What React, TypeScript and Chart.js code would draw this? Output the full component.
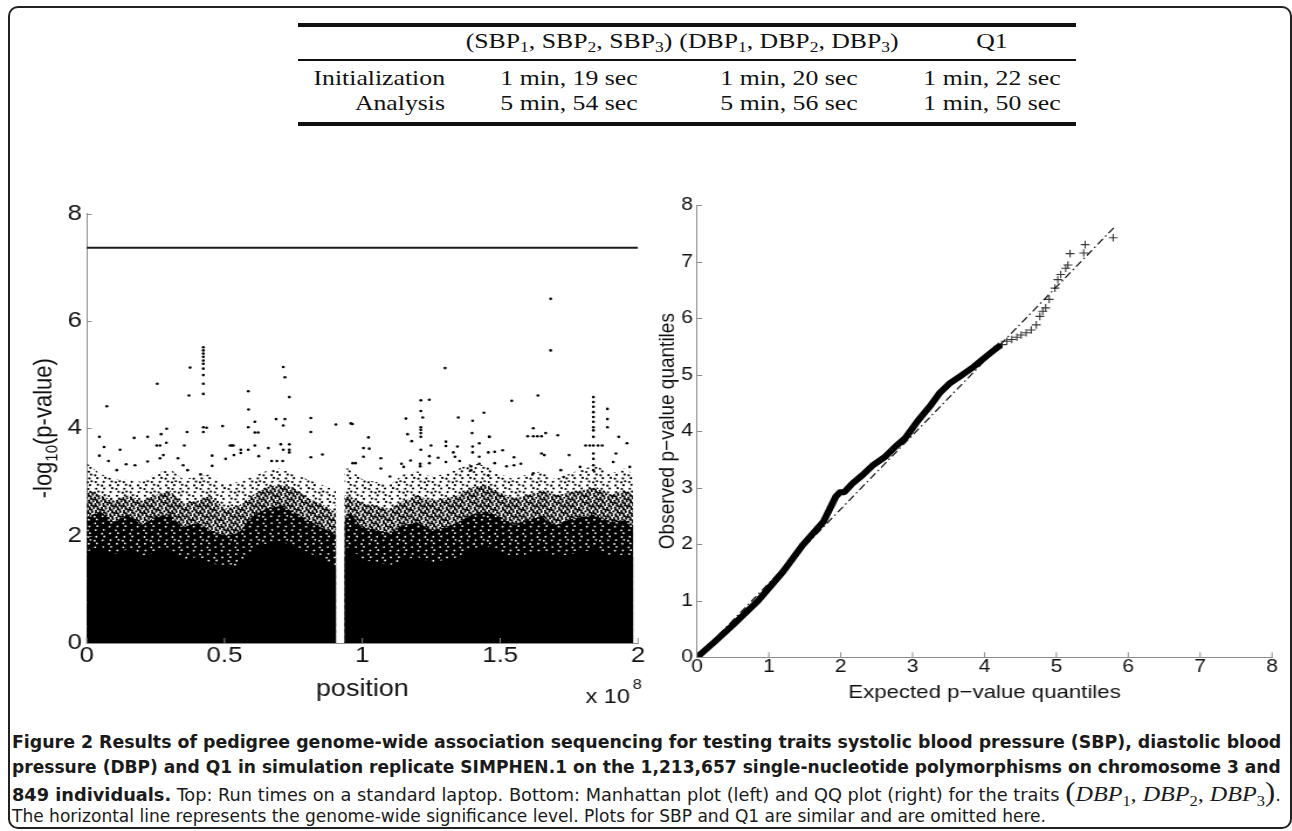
import React, { useEffect, useLayoutEffect, useRef } from "react";
import { Chart, registerables } from "chart.js";

Chart.register(...registerables);

// ---------------- fonts / layout helpers ----------------
const STRETCH = 1.17; // the reference figure is stretched horizontally
const SANS = "'Liberation Sans', Arial, Helvetica, sans-serif";
const SERIF = "'Liberation Serif', 'Times New Roman', serif";
const NARROW = "'Liberation Sans Narrow', 'DejaVu Sans Condensed', 'Liberation Sans', sans-serif";

// ---------------- table data ----------------
const tableTraitGroups = [["SBP", "SBP", "SBP"], ["DBP", "DBP", "DBP"], ["Q1"]];
const tableRowLabels = ["Initialization", "Analysis"];
const tableInitialization = ["1 min, 19 sec", "1 min, 20 sec", "1 min, 22 sec"];
const tableAnalysis = ["5 min, 54 sec", "5 min, 56 sec", "1 min, 50 sec"];

// ---------------- Manhattan plot data (position in units of 1e8) ----------------
const manhattanXTicks = [0, 0.5, 1, 1.5, 2];
const manhattanXTickLabels = ["0", "0.5", "1", "1.5", "2"];
const manhattanYTicks = [0, 2, 4, 6, 8];
const significanceLevel = 7.36;

// envelopes of the dense cloud of SNPs, from solid black to sparse dots (null = gap without SNPs)
const bandPos = [0, 0.05, 0.1, 0.15, 0.2, 0.25, 0.3, 0.35, 0.4, 0.45, 0.5, 0.55, 0.6, 0.65, 0.7, 0.75, 0.8, 0.85, 0.9, 0.905, 0.92, 0.935, 0.95, 1.0, 1.05, 1.1, 1.15, 1.2, 1.25, 1.3, 1.35, 1.4, 1.45, 1.5, 1.55, 1.6, 1.65, 1.7, 1.75, 1.8, 1.85, 1.9, 1.95, 1.983];
const solidTop = [1.7, 1.8, 1.65, 1.75, 1.6, 1.7, 1.75, 1.55, 1.6, 1.5, 1.4, 1.45, 1.7, 1.85, 1.9, 1.8, 1.7, 1.55, 1.45, 1.4, null, 1.6, 1.8, 1.55, 1.5, 1.45, 1.55, 1.6, 1.5, 1.55, 1.6, 1.75, 1.8, 1.7, 1.6, 1.65, 1.7, 1.6, 1.65, 1.7, 1.75, 1.6, 1.65, 1.6];
const denseTop = [2.35, 2.45, 2.25, 2.4, 2.2, 2.35, 2.4, 2.15, 2.25, 2.1, 2.0, 2.05, 2.35, 2.5, 2.55, 2.45, 2.3, 2.15, 2.05, 2.0, null, 2.25, 2.45, 2.15, 2.1, 2.05, 2.2, 2.25, 2.1, 2.15, 2.25, 2.4, 2.45, 2.35, 2.2, 2.3, 2.35, 2.2, 2.3, 2.35, 2.4, 2.25, 2.3, 2.2];
const mediumTop = [2.85, 2.75, 2.65, 2.75, 2.65, 2.75, 2.85, 2.6, 2.65, 2.75, 2.5, 2.55, 2.75, 2.9, 2.95, 2.9, 2.7, 2.6, 2.45, 2.45, null, 2.75, 2.75, 2.6, 2.55, 2.5, 2.65, 2.75, 2.65, 2.7, 2.75, 2.9, 2.95, 2.8, 2.7, 2.75, 2.85, 2.75, 2.8, 2.85, 2.9, 2.75, 2.85, 2.75];
const sparseTop = [3.35, 3.15, 3.05, 3.05, 3.0, 3.15, 3.25, 3.05, 3.1, 3.15, 2.95, 3.0, 3.1, 3.2, 3.25, 3.15, 3.05, 2.95, 2.85, 2.85, null, 3.25, 3.25, 3.05, 3.0, 2.95, 3.15, 3.2, 3.1, 3.15, 3.25, 3.35, 3.3, 3.15, 3.05, 3.15, 3.2, 3.05, 3.15, 3.25, 3.3, 3.15, 3.25, 3.15];

// individual SNPs standing out above the cloud
const peakPos = [
  0.423, 0.423, 0.423, 0.423, 0.423, 0.423, 0.423, 0.423, 0.423, 0.423, 0.423, 0.423, 0.435, 0.375, 0.371, 0.256, 0.073, 0.290, 0.270, 0.364,
  0.046, 0.172, 0.221, 0.063, 0.121, 0.254, 0.266, 0.289, 0.354, 0.455, 0.046, 0.079, 0.221, 0.266, 0.278, 0.331, 0.350, 0.366, 0.175, 0.143,
  0.109, 0.455, 0.413,
  0.713, 0.719, 0.735, 0.586, 0.587, 0.610, 0.687, 0.719, 0.713, 0.813, 0.813, 0.904, 0.958, 0.964, 0.493, 0.586, 0.610, 0.622, 1.022, 0.520,
  0.526, 0.532, 0.559, 0.559, 0.586, 0.610, 0.659, 0.704, 0.713, 0.735, 0.735, 0.735, 0.504, 0.534, 0.624, 0.813, 0.855, 1.004, 1.004, 0.965,
  0.975, 0.671, 0.690, 0.711,
  1.300, 1.212, 1.243, 1.212, 1.219, 1.158, 1.348, 1.400, 1.441, 1.212, 1.212, 1.212, 1.212, 1.164, 1.179, 1.025, 1.398, 1.461, 1.424, 1.509,
  1.249, 1.303, 1.303, 1.345, 1.400, 1.400, 1.457, 1.212, 1.067, 1.142, 1.150, 1.175, 1.210, 1.210, 1.243, 1.243, 1.275, 1.303, 1.330, 1.336,
  1.353, 1.394, 1.394, 1.424, 1.424, 1.480, 1.523, 1.457, 1.067, 1.100,
  1.683, 1.683, 1.637, 1.542, 1.838, 1.838, 1.838, 1.838, 1.838, 1.838, 1.838, 1.838, 1.838, 1.838, 1.838, 1.838, 1.838, 1.838, 1.889, 1.889,
  1.889, 1.930, 1.600, 1.620, 1.635, 1.650, 1.620, 1.665, 1.460, 1.810, 1.825, 1.855, 1.870, 1.709, 1.960, 1.920, 1.750, 1.650, 1.660, 1.550,
  1.550, 1.575, 1.480, 1.790, 1.910, 1.970, 1.720, 1.730, 1.620,
];
const peakVal = [
  5.51, 5.45, 5.39, 5.33, 5.26, 5.20, 5.11, 4.99, 4.83, 4.64, 4.02, 3.93, 4.01, 5.13, 4.61, 4.83, 4.41, 3.99, 3.89, 3.93,
  3.84, 3.82, 3.84, 3.65, 3.60, 3.68, 3.68, 3.73, 3.68, 3.49, 3.49, 3.39, 3.38, 3.44, 3.50, 3.44, 3.31, 3.22, 3.31, 3.33,
  3.22, 3.30, 3.14,
  5.14, 4.95, 4.58, 4.69, 4.35, 4.12, 4.17, 4.17, 4.05, 4.19, 3.93, 4.07, 4.09, 4.08, 4.04, 4.02, 3.92, 3.92, 3.83, 3.68,
  3.68, 3.68, 3.60, 3.54, 3.60, 3.68, 3.63, 3.70, 3.60, 3.70, 3.60, 3.55, 3.43, 3.50, 3.48, 3.46, 3.51, 3.63, 3.47, 3.35,
  3.35, 3.39, 3.39, 3.39,
  5.12, 4.52, 4.53, 4.32, 4.20, 4.18, 4.20, 4.14, 4.29, 4.02, 3.97, 3.91, 3.84, 3.89, 3.76, 3.62, 3.91, 3.84, 3.72, 3.59,
  3.68, 3.75, 3.67, 3.66, 3.66, 3.55, 3.55, 3.60, 3.44, 3.34, 3.28, 3.40, 3.34, 3.29, 3.48, 3.35, 3.45, 3.37, 3.55, 3.47,
  3.39, 3.29, 3.22, 3.47, 3.34, 3.35, 3.29, 3.12, 3.25, 3.10,
  6.41, 5.45, 4.61, 4.51, 4.58, 4.49, 4.40, 4.30, 4.21, 4.12, 4.02, 3.96, 3.84, 3.68, 3.53, 3.43, 3.31, 3.22, 4.36, 4.17,
  4.02, 3.84, 3.85, 3.85, 3.85, 3.85, 4.00, 3.91, 3.84, 3.68, 3.68, 3.68, 3.68, 3.87, 3.72, 3.53, 3.50, 3.53, 3.50, 3.46,
  3.31, 3.34, 3.56, 3.28, 3.37, 3.28, 3.22, 3.09, 3.16,
];

// ---------------- QQ plot data ----------------
const qqTicks = [0, 1, 2, 3, 4, 5, 6, 7, 8];
const qqExpected = [0, 0.25, 0.5, 0.85, 1.2, 1.48, 1.76, 1.93, 1.99, 2.05, 2.16, 2.3, 2.44, 2.61, 2.78, 2.9, 3.07, 3.24, 3.38, 3.52, 3.66, 3.85, 4.08, 4.2];
const qqObserved = [0, 0.28, 0.57, 1.0, 1.52, 2.0, 2.4, 2.84, 2.92, 2.92, 3.07, 3.22, 3.39, 3.54, 3.75, 3.88, 4.18, 4.44, 4.68, 4.85, 4.97, 5.14, 5.38, 5.5];
const qqTailExpected = [4.19, 4.24, 4.31, 4.38, 4.45, 4.51, 4.58, 4.65, 4.72, 4.77, 4.81, 4.85, 4.90, 4.98, 5.02, 5.06, 5.13, 5.16, 5.19, 5.38, 5.40, 5.79];
const qqTailObserved = [5.50, 5.53, 5.59, 5.62, 5.66, 5.70, 5.74, 5.79, 5.88, 6.03, 6.12, 6.18, 6.33, 6.53, 6.68, 6.77, 6.88, 6.94, 7.14, 7.15, 7.30, 7.42];
const refLineExpected = [0, 5.8];
const refLineObserved = [0, 7.6];

// ---------------- helpers ----------------
function splitSegments(pos: number[], vals: (number | null)[]) {
  const segs: { x: number; y: number }[][] = [];
  let cur: { x: number; y: number }[] = [];
  pos.forEach((p, i) => {
    const v = vals[i];
    if (v == null) {
      if (cur.length) segs.push(cur);
      cur = [];
    } else cur.push({ x: p, y: v });
  });
  if (cur.length) segs.push(cur);
  return segs;
}

// speckle texture (quasi-random, deterministic) used to shade the point cloud
function speckle(tile: number, count: number, r: number, base: string | null, dotColor: string) {
  const c = document.createElement("canvas");
  c.width = tile;
  c.height = tile;
  const g = c.getContext("2d")!;
  if (base) {
    g.fillStyle = base;
    g.fillRect(0, 0, tile, tile);
  }
  g.fillStyle = dotColor;
  for (let i = 0; i < count; i++) {
    const x = ((0.37 + i * 0.7548776662) % 1) * tile;
    const y = ((0.61 + i * 0.569840291) % 1) * tile;
    for (const dx of [-tile, 0, tile])
      for (const dy of [-tile, 0, tile]) {
        g.beginPath();
        g.arc(x + dx, y + dy, r, 0, Math.PI * 2);
        g.fill();
      }
  }
  return g.createPattern(c, "repeat")!;
}

const inwardTicks = {
  id: "inwardTicks",
  afterDraw(chart: any, _a: any, opts: any) {
    const { ctx, chartArea } = chart;
    const xs = chart.scales.x;
    const ys = chart.scales.y;
    ctx.save();
    ctx.strokeStyle = opts.color;
    ctx.lineWidth = 1;
    ctx.beginPath();
    for (const v of opts.xTicks) {
      const px = xs.getPixelForValue(v);
      ctx.moveTo(px, chartArea.bottom);
      ctx.lineTo(px, chartArea.bottom - opts.lenY);
    }
    for (const v of opts.yTicks) {
      const py = Math.round(ys.getPixelForValue(v)) + 0.5;
      ctx.moveTo(chartArea.left, py);
      ctx.lineTo(chartArea.left + opts.lenX, py);
    }
    ctx.stroke();
    ctx.restore();
  },
};

const manhattanText = {
  id: "manhattanText",
  afterDraw(chart: any) {
    const { ctx, chartArea } = chart;
    ctx.save();
    ctx.fillStyle = "#111";
    const cy = (chartArea.top + chartArea.bottom) / 2;
    ctx.translate(36, cy);
    ctx.rotate(-Math.PI / 2);
    const big = `22px ${SANS}`;
    const small = `15px ${SANS}`;
    ctx.font = big;
    const w1 = ctx.measureText("-log").width;
    const w3 = ctx.measureText("(p-value)").width;
    ctx.font = small;
    const w2 = ctx.measureText("10").width;
    let x = -(w1 + w2 + w3) / 2;
    ctx.textBaseline = "alphabetic";
    ctx.font = big;
    ctx.fillText("-log", x, 8);
    x += w1;
    ctx.font = small;
    ctx.fillText("10", x, 13);
    x += w2;
    ctx.font = big;
    ctx.fillText("(p-value)", x, 8);
    ctx.restore();

    ctx.save();
    ctx.fillStyle = "#111";
    ctx.textBaseline = "alphabetic";
    ctx.font = `20px ${SANS}`;
    ctx.textAlign = "right";
    ctx.fillText("x 10", chartArea.right - 7, 513);
    ctx.font = `14px ${SANS}`;
    ctx.textAlign = "left";
    ctx.fillText("8", chartArea.right - 4.5, 499);
    ctx.restore();
  },
};

// ---------------- Manhattan plot ----------------
const M_W = 564;
const M_H = 530;

function ManhattanPlot() {
  const ref = useRef<HTMLCanvasElement | null>(null);
  useEffect(() => {
    if (!ref.current) return;
    const densePattern = speckle(24, 22, 0.9, "#000", "#fff");
    const mediumPattern = speckle(24, 95, 1.1, null, "#000");
    const sparsePattern = speckle(24, 30, 1.1, null, "#000");

    const solidSegs = splitSegments(bandPos, solidTop);
    const denseSegs = splitSegments(bandPos, denseTop);
    const mediumSegs = splitSegments(bandPos, mediumTop);
    const sparseSegs = splitSegments(bandPos, sparseTop);

    // every layer is filled down to the axis; the denser layers are drawn over the lighter ones
    const band = (data: any, bg: any, order: number) => ({
      data,
      borderColor: "rgba(0,0,0,0)",
      borderWidth: 0,
      pointRadius: 0,
      pointHoverRadius: 0,
      tension: 0,
      fill: "origin",
      backgroundColor: bg,
      order,
    });

    const datasets: any[] = [];
    datasets.push({
      data: [{ x: 0, y: significanceLevel }, { x: 2, y: significanceLevel }],
      borderColor: "#1a1a1a",
      borderWidth: 2,
      pointRadius: 0,
      fill: false,
      order: 0,
    });
    datasets.push({
      data: peakPos.map((p, i) => ({ x: p, y: peakVal[i] })),
      showLine: false,
      pointRadius: 1.3,
      pointBackgroundColor: "#000",
      pointBorderWidth: 0,
      pointHoverRadius: 0,
      order: 1,
    });
    solidSegs.forEach((seg, k) => {
      datasets.push(band(sparseSegs[k], sparsePattern, 5));
      datasets.push(band(mediumSegs[k], mediumPattern, 4));
      datasets.push(band(denseSegs[k], densePattern, 3));
      datasets.push(band(seg, "#000", 2));
    });

    const chart = new Chart(ref.current, {
      type: "line",
      data: { datasets },
      options: {
        responsive: false,
        animation: false,
        events: [],
        layout: { padding: { top: 23.5, right: 18.7, bottom: 0, left: 0 } },
        plugins: {
          legend: { display: false },
          tooltip: { enabled: false },
          inwardTicks: { xTicks: manhattanXTicks, yTicks: manhattanYTicks, lenX: 4.3, lenY: 5, color: "#8c8c8c" },
        } as any,
        scales: {
          x: {
            type: "linear",
            min: 0,
            max: 2,
            afterBuildTicks: (s: any) => {
              s.ticks = manhattanXTicks.map((v) => ({ value: v }));
            },
            afterFit: (s: any) => {
              s.height = M_H - 453;
            },
            grid: { display: false, drawTicks: false },
            border: { display: true, color: "#8c8c8c", width: 1 },
            ticks: {
              padding: 0,
              color: "#111",
              font: { family: SANS, size: 22 },
              maxRotation: 0,
              callback: (v: any) => manhattanXTickLabels[manhattanXTicks.indexOf(Number(v))] ?? "",
            },
            title: { display: true, text: "position", color: "#111", font: { family: SANS, size: 23 }, padding: { top: 0, bottom: 16.2 } },
          },
          y: {
            type: "linear",
            min: 0,
            max: 8,
            afterBuildTicks: (s: any) => {
              s.ticks = manhattanYTicks.map((v) => ({ value: v }));
            },
            afterFit: (s: any) => {
              s.width = 74.1;
            },
            grid: { display: false, drawTicks: false },
            border: { display: true, color: "#8c8c8c", width: 1 },
            ticks: { padding: 4, color: "#111", font: { family: SANS, size: 22 } },
          },
        },
      } as any,
      plugins: [inwardTicks, manhattanText] as any,
    });
    return () => chart.destroy();
  }, []);
  return (
    <div style={{ position: "absolute", left: 0, top: 190, width: M_W, height: M_H, transform: `scaleX(${STRETCH})`, transformOrigin: "0 0" }}>
      <canvas ref={ref} width={M_W} height={M_H} />
    </div>
  );
}

// ---------------- QQ plot ----------------
const Q_W = 557;
const Q_H = 530;

function QQPlot() {
  const ref = useRef<HTMLCanvasElement | null>(null);
  useEffect(() => {
    if (!ref.current) return;
    const chart = new Chart(ref.current, {
      type: "line",
      data: {
        datasets: [
          {
            data: qqExpected.map((x, i) => ({ x, y: qqObserved[i] })),
            borderColor: "#000",
            borderWidth: 6,
            borderJoinStyle: "round",
            borderCapStyle: "round",
            pointRadius: 0,
            tension: 0,
            fill: false,
            order: 0,
          },
          {
            data: refLineExpected.map((x, i) => ({ x, y: refLineObserved[i] })),
            borderColor: "#111",
            borderWidth: 1.2,
            borderDash: [7, 3, 1.5, 3],
            pointRadius: 0,
            fill: false,
            order: 1,
          },
          {
            data: qqTailExpected.map((x, i) => ({ x, y: qqTailObserved[i] })),
            showLine: false,
            pointStyle: "cross",
            pointRadius: 3.8,
            pointBorderWidth: 1.1,
            pointBorderColor: "#3a3a3a",
            pointBackgroundColor: "#3a3a3a",
            pointHoverRadius: 0,
            order: 2,
          },
        ] as any,
      },
      options: {
        responsive: false,
        animation: false,
        events: [],
        layout: { padding: { top: 15, right: 16.8, bottom: 0, left: 0 } },
        plugins: {
          legend: { display: false },
          tooltip: { enabled: false },
          inwardTicks: { xTicks: qqTicks, yTicks: qqTicks, lenX: 4.3, lenY: 5, color: "#8c8c8c" },
        } as any,
        scales: {
          x: {
            type: "linear",
            min: 0,
            max: 8,
            afterBuildTicks: (s: any) => {
              s.ticks = qqTicks.map((v) => ({ value: v }));
            },
            afterFit: (s: any) => {
              s.height = Q_H - 467.3;
            },
            grid: { display: false, drawTicks: false },
            border: { display: true, color: "#8c8c8c", width: 1 },
            ticks: { padding: -1, color: "#111", font: { family: SANS, size: 18 }, maxRotation: 0 },
            title: { display: true, text: "Expected p\u2212value quantiles", color: "#111", font: { family: SANS, size: 19 }, padding: { top: 0, bottom: 15.6 } },
          },
          y: {
            type: "linear",
            min: 0,
            max: 8,
            afterBuildTicks: (s: any) => {
              s.ticks = qqTicks.map((v) => ({ value: v }));
            },
            afterFit: (s: any) => {
              s.width = 48.7;
            },
            grid: { display: false, drawTicks: false },
            border: { display: true, color: "#8c8c8c", width: 1 },
            ticks: { padding: 3.4, color: "#111", font: { family: SANS, size: 18 } },
            title: { display: true, text: "Observed p\u2212value quantiles", color: "#111", font: { family: SANS, size: 19 }, padding: { top: 12.5, bottom: 0 } },
          },
        },
      } as any,
      plugins: [inwardTicks] as any,
    });
    return () => chart.destroy();
  }, []);
  return (
    <div style={{ position: "absolute", left: 640, top: 190, width: Q_W, height: Q_H, transform: `scaleX(${STRETCH})`, transformOrigin: "0 0" }}>
      <canvas ref={ref} width={Q_W} height={Q_H} />
    </div>
  );
}

// ---------------- table ----------------
const subStyle: React.CSSProperties = { fontSize: "0.68em", verticalAlign: "-0.3em", lineHeight: 0 };

function cell(x: number, y: number, align: "center" | "right"): React.CSSProperties {
  return {
    position: "absolute",
    left: x,
    top: y,
    whiteSpace: "nowrap",
    fontFamily: SERIF,
    fontSize: 22,
    lineHeight: "24px",
    color: "#111",
    transform: align === "center" ? `translate(-50%,-50%) scaleX(${STRETCH})` : `translate(-100%,-50%) scaleX(${STRETCH})`,
    transformOrigin: align === "center" ? "50% 50%" : "100% 50%",
  };
}

function TraitHeader({ group }: { group: string[] }) {
  if (group.length === 1) return <span>{group[0]}</span>;
  return (
    <span>
      (
      {group.map((g, i) => (
        <span key={i}>
          {g}
          <sub style={subStyle}>{i + 1}</sub>
          {i < group.length - 1 ? ", " : ""}
        </span>
      ))}
      )
    </span>
  );
}

function RunTimeTable() {
  const left = 298;
  const right = 1076;
  const colX = [569, 789, 992];
  const labelRight = 445;
  const rule = (top: number, h: number): React.CSSProperties => ({ position: "absolute", left, top, width: right - left, height: h, background: "#111" });
  const rows = [tableInitialization, tableAnalysis];
  const rowY = [78, 103];
  return (
    <>
      <div style={rule(23, 4)} />
      <div style={rule(59, 2)} />
      <div style={rule(122, 4)} />
      {tableTraitGroups.map((g, i) => (
        <div key={"h" + i} style={cell(colX[i], 41, "center")}>
          <TraitHeader group={g} />
        </div>
      ))}
      {rows.map((r, ri) => (
        <React.Fragment key={"r" + ri}>
          <div style={cell(labelRight, rowY[ri], "right")}>{tableRowLabels[ri]}</div>
          {r.map((t, ci) => (
            <div key={ci} style={cell(colX[ci], rowY[ri], "center")}>
              {t}
            </div>
          ))}
        </React.Fragment>
      ))}
    </>
  );
}

// ---------------- caption ----------------
const captionY = [742, 767, 792, 816];
const captionWidth = [1269, 1269, 1269, 1034];

function Caption() {
  const refs = useRef<(HTMLDivElement | null)[]>([]);
  useLayoutEffect(() => {
    const fit = () => {
      refs.current.forEach((el, i) => {
        if (!el) return;
        el.style.transform = "none";
        const w = el.scrollWidth;
        el.style.transform = `scaleX(${captionWidth[i] / w})`;
      });
    };
    fit();
    (document as any).fonts?.ready?.then(fit);
  }, []);
  const lineStyle = (i: number): React.CSSProperties => ({
    position: "absolute",
    left: 12,
    top: captionY[i] - 12,
    height: 24,
    lineHeight: "24px",
    width: "max-content",
    whiteSpace: "nowrap",
    fontFamily: NARROW,
    fontSize: 18,
    color: "#1a1a1a",
    transformOrigin: "0 50%",
  });
  const mathSub: React.CSSProperties = { fontStyle: "normal", fontSize: 15, verticalAlign: "-0.3em", lineHeight: 0 };
  return (
    <>
      <div ref={(e) => (refs.current[0] = e)} style={{ ...lineStyle(0), fontWeight: 700 }}>
        Figure 2 Results of pedigree genome-wide association sequencing for testing traits systolic blood pressure (SBP), diastolic blood
      </div>
      <div ref={(e) => (refs.current[1] = e)} style={{ ...lineStyle(1), fontWeight: 700 }}>
        pressure (DBP) and Q1 in simulation replicate SIMPHEN.1 on the 1,213,657 single-nucleotide polymorphisms on chromosome 3 and
      </div>
      <div ref={(e) => (refs.current[2] = e)} style={lineStyle(2)}>
        <b>849 individuals.</b> Top: Run times on a standard laptop. Bottom: Manhattan plot (left) and QQ plot (right) for the traits{" "}
        <span style={{ fontFamily: SERIF, fontStyle: "italic", fontSize: 22 }}>
          <span style={{ fontStyle: "normal", fontSize: 28 }}>(</span>DBP<sub style={mathSub}>1</sub>, DBP<sub style={mathSub}>2</sub>, DBP
          <sub style={mathSub}>3</sub>
          <span style={{ fontStyle: "normal", fontSize: 28 }}>)</span>
        </span>
        .
      </div>
      <div ref={(e) => (refs.current[3] = e)} style={lineStyle(3)}>
        The horizontal line represents the genome-wide significance level. Plots for SBP and Q1 are similar and are omitted here.
      </div>
    </>
  );
}

export default function App() {
  return (
    <div style={{ position: "absolute", left: 0, top: 0, width: 1292, height: 831, background: "#fff", overflow: "hidden" }}>
      <div style={{ position: "absolute", left: 8, top: 6, width: 1284, height: 823, border: "2px solid #222", borderRadius: 10, boxSizing: "border-box" }} />
      <RunTimeTable />
      <ManhattanPlot />
      <QQPlot />
      <Caption />
    </div>
  );
}
